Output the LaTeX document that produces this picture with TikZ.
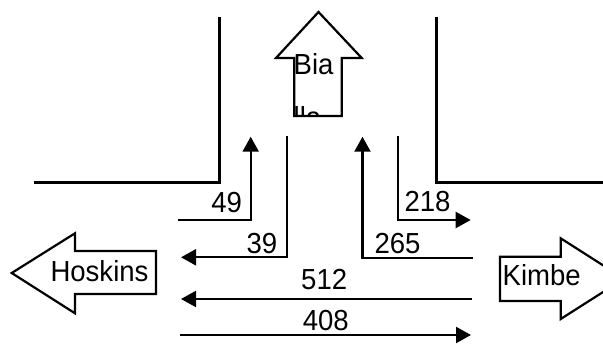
\documentclass[tikz,border=0pt]{standalone}
\usepackage{fontspec}
\setmainfont{Liberation Sans}[FakeStretch=0.95]
\usetikzlibrary{arrows.meta}
\tikzset{
  road/.style={line width=3pt, line cap=butt},
  flow/.style={line width=2.2pt, -{Triangle[length=15pt,width=16pt]}},
  blockarrow/.style={draw, line width=2.2pt, fill=white, miter limit=10},
  lbl/.style={inner sep=0pt, font=\fontsize{29pt}{29pt}\selectfont},
}
\begin{document}
\begin{tikzpicture}[x=1pt,y=-1pt]
\useasboundingbox (0,0) rectangle (603,356);
\clip (0,0) rectangle (603,356);
% roads
\coordinate (rl1) at (34,182.7);
\coordinate (rl2) at (219.5,182.7);
\coordinate (rl3) at (219.5,17.3);
\coordinate (rr1) at (436.5,17.3);
\coordinate (rr2) at (436.5,182.5);
\coordinate (rr3) at (606,182.5);
\draw[road] (rl1) -- (rl2) -- (rl3);
\draw[road] (rr1) -- (rr2) -- (rr3);
% block arrows
\draw[blockarrow] (318.5,12) -- (361.7,58) -- (341.7,58) -- (341.7,116) -- (294.3,116) -- (294.3,58) -- (276,58) -- cycle;
\begin{scope}
  \clip (270,0) rectangle (366,115);
  \node[lbl, anchor=base west] (bia) at (293.5,74) {Bia};
  \node[lbl, anchor=base west] (lla) at (293.5,127.5) {lla};
\end{scope}
\draw[blockarrow] (11.7,273) -- (75,233.3) -- (75,251) -- (156,251) -- (156,294) -- (75,294) -- (75,313.3) -- cycle;
\node[lbl, anchor=base] (hoskins) at (99.5,281) {Hoskins};
\draw[blockarrow] (500,256.7) -- (560.7,256.7) -- (560.7,238.3) -- (624,278.7) -- (560.7,319) -- (560.7,301) -- (500,301) -- cycle;
\node[lbl, anchor=base] (kimbe) at (541.7,285.7) {Kimbe};
% flows
\coordinate (a49s) at (178,220);
\coordinate (a49c) at (250.7,220);
\coordinate (a49e) at (250.7,136.7);
\draw[flow] (a49s) -- (a49c) -- (a49e);
\coordinate (a39s) at (286.7,136);
\coordinate (a39c) at (286.7,257.3);
\coordinate (a39e) at (181,257.3);
\draw[flow] (a39s) -- (a39c) -- (a39e);
\coordinate (a265s) at (472.5,258.3);
\coordinate (a265c) at (362.5,258.3);
\coordinate (a265e) at (362.5,136.7);
\draw[flow] (a265s) -- (a265c) -- (a265e);
\coordinate (a218s) at (398.3,136);
\coordinate (a218c) at (398.3,220);
\coordinate (a218e) at (470.7,220);
\draw[flow] (a218s) -- (a218c) -- (a218e);
\coordinate (a512s) at (471.7,299);
\coordinate (a512e) at (181,299);
\draw[flow] (a512s) -- (a512e);
\coordinate (a408s) at (180,335);
\coordinate (a408e) at (471,335);
\draw[flow] (a408s) -- (a408e);
% labels
\node[lbl, anchor=base] (l49) at (226.7,212.7) {49};
\node[lbl, anchor=base] (l39) at (262,253.3) {39};
\node[lbl, anchor=base] (l218) at (427.5,211.7) {218};
\node[lbl, anchor=base] (l265) at (397.5,253.3) {265};
\node[lbl, anchor=base] (l512) at (324.2,289) {512};
\node[lbl, anchor=base] (l408) at (325.8,330.7) {408};
\end{tikzpicture}
\end{document}
